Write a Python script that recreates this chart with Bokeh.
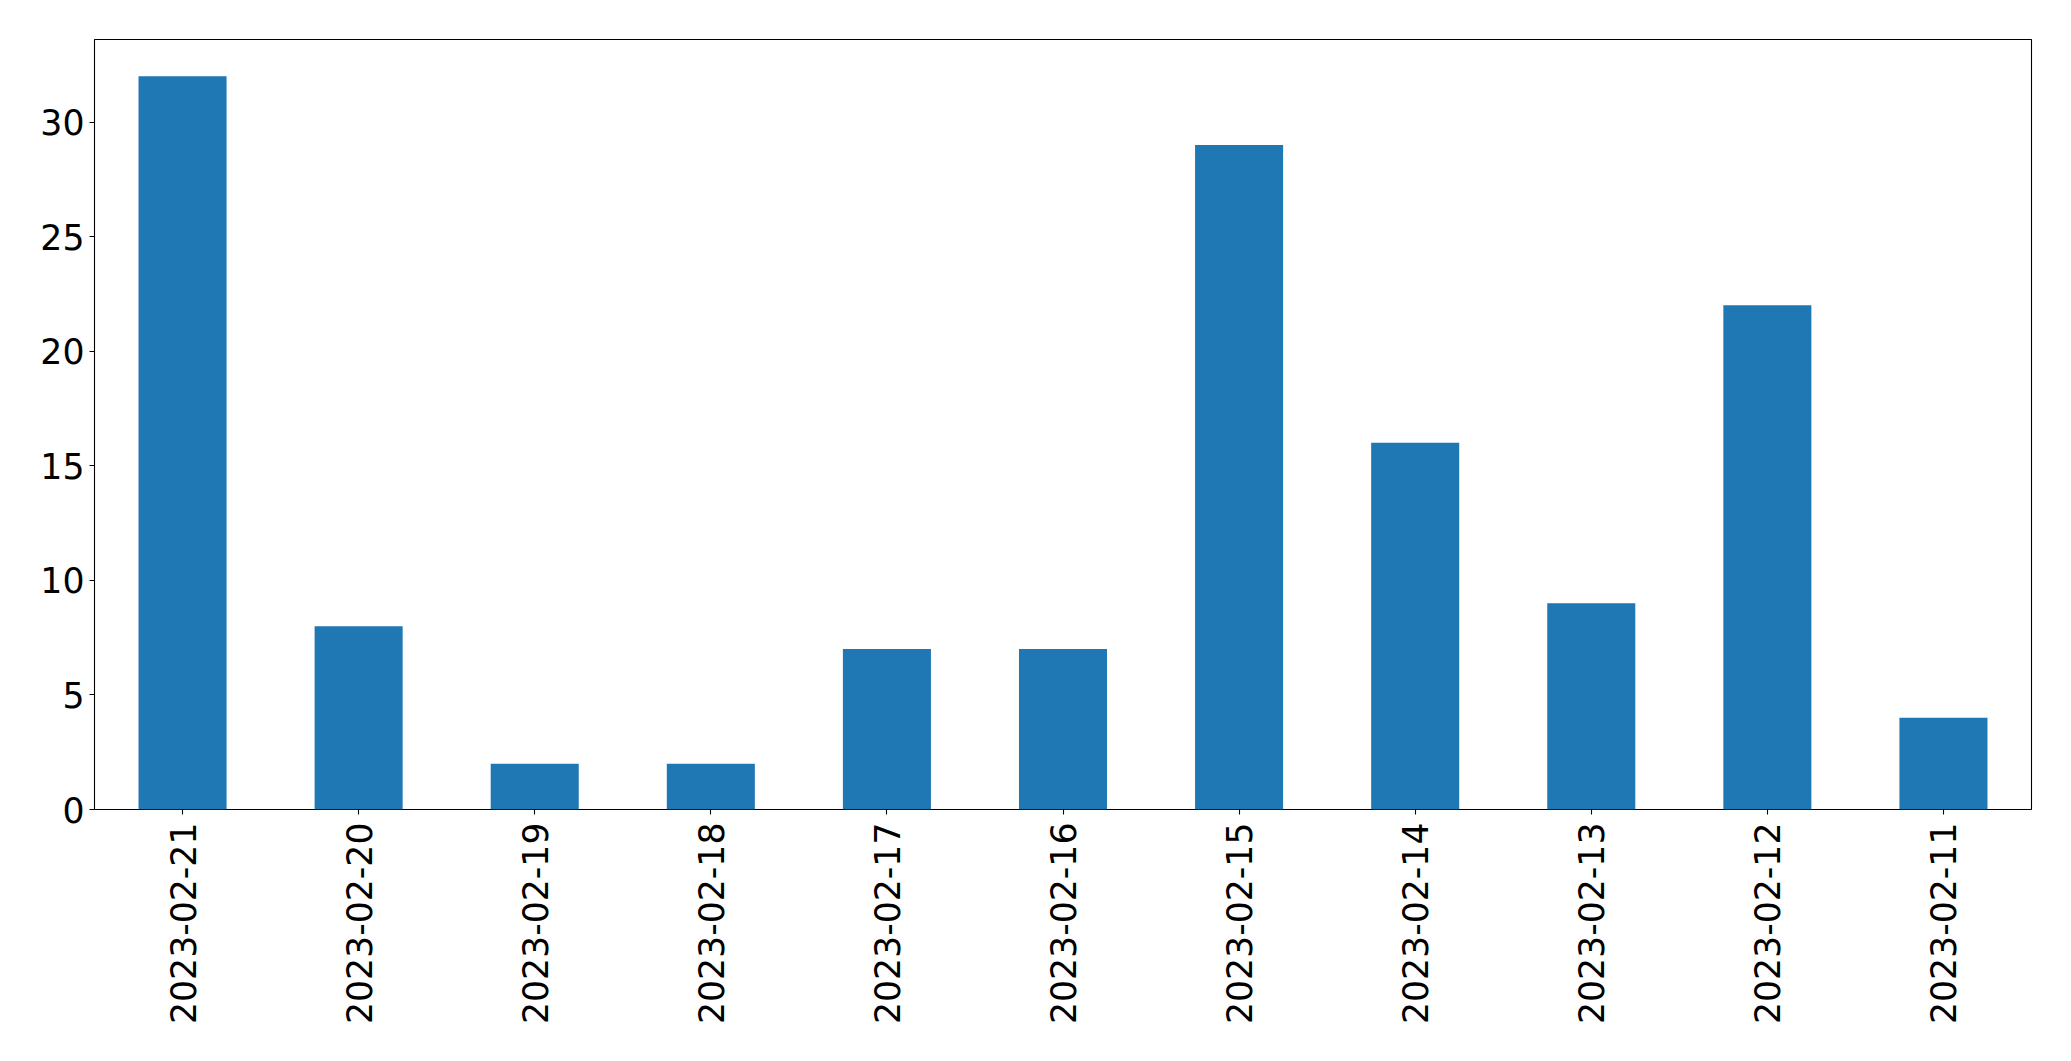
import math
from bokeh.plotting import figure
from bokeh.models import FactorRange, Range1d, FixedTicker, ColumnDataSource
from bokeh.embed import file_html
from bokeh.resources import INLINE

dates = ["2023-02-21", "2023-02-20", "2023-02-19", "2023-02-18", "2023-02-17",
         "2023-02-16", "2023-02-15", "2023-02-14", "2023-02-13", "2023-02-12",
         "2023-02-11"]
counts = [32, 8, 2, 2, 7, 7, 29, 16, 9, 22, 4]
y_ticks = [0, 5, 10, 15, 20, 25, 30]

src = ColumnDataSource(dict(date=dates, count=counts))

p = figure(
    x_range=FactorRange(factors=dates, range_padding=0),
    y_range=Range1d(0, max(counts) * 1.05),
    frame_width=1937, frame_height=770,
    min_border_left=94, min_border_top=39, min_border_right=30, min_border_bottom=240,
    output_backend="svg", toolbar_location=None,
)
p.vbar(x="date", top="count", width=0.5, source=src, fill_color="#1f77b4", line_color=None)

p.xgrid.visible = False
p.ygrid.visible = False
p.outline_line_color = "black"
p.outline_line_width = 1.1
p.outline_line_alpha = 1.0

p.yaxis.ticker = FixedTicker(ticks=y_ticks)
for ax in (p.xaxis[0], p.yaxis[0]):
    ax.axis_line_color = None
    ax.major_tick_line_color = "black"
    ax.major_tick_line_width = 1.1
    ax.major_tick_out = 5
    ax.major_tick_in = 0
    ax.minor_tick_line_color = None
    ax.major_label_text_font = "DejaVu Sans"
    ax.major_label_text_font_size = "34.7px"
    ax.major_label_text_color = "black"
    ax.major_label_standoff = 5
p.xaxis.major_label_standoff = 8
p.xaxis.major_label_orientation = math.pi / 2

open("out.html", "w").write(file_html(p, INLINE))
